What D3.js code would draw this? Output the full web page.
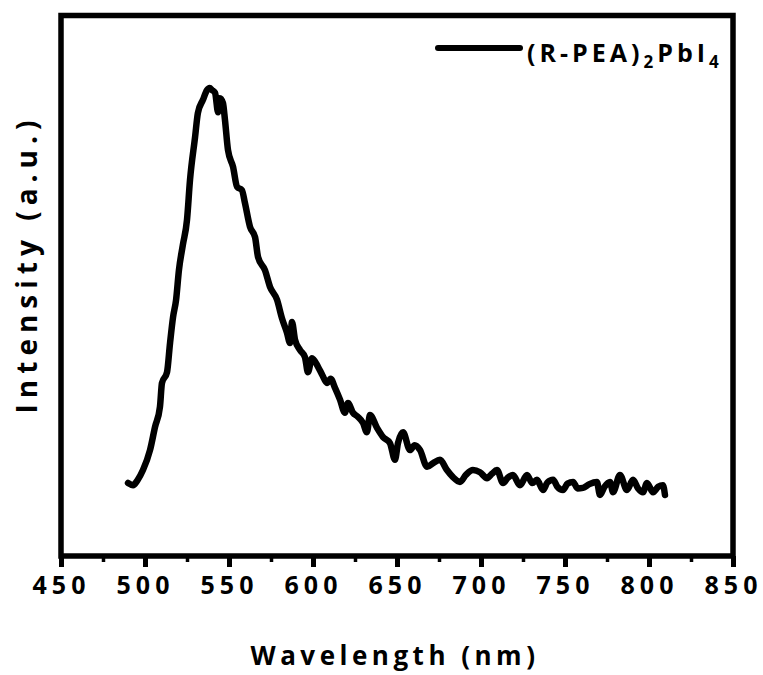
<!DOCTYPE html>
<html>
<head>
<meta charset="utf-8">
<script src="https://cdn.jsdelivr.net/npm/d3@7"></script>
<style>
  body { margin: 0; background: #fff; }
  text { font-family: "Open Sans", sans-serif; font-weight: bold; fill: #000; }
</style>
</head>
<body>
<svg id="chart" width="763" height="675"></svg>
<script>
// wavelength (nm) and PL intensity (a.u.)
const wavelength = [489.9, 492.9, 495.5, 498.8, 503.0, 506.0, 508.9, 510.1, 513.1, 514.9, 516.7, 518.5, 520.2,
  522.5, 525.0, 526.8, 529.8, 531.5, 534.5, 536.9, 538.5, 539.9, 541.7, 543.5, 544.6, 546.4, 547.6, 549.4, 552.4,
  554.8, 557.7, 559.5, 562.5, 565.5, 567.3, 571.4, 574.4, 578.6, 581.5, 584.5, 586.3, 587.5, 589.3,
  592.3, 595.2, 597.0, 599.4, 603.0, 605.5, 608.3, 610.5, 613.1, 616.1, 619.0, 620.8, 623.8, 626.5, 629.8, 632.1, 633.9,
  638.1, 641.7, 645.8, 648.8, 650.6, 653.6, 657.7, 660.5, 663.7, 667.9, 671.5, 675.6, 679.5, 683.3, 687.5, 691.0, 695.2, 699.4,
  703.6, 706.5, 709.5, 713.1, 716.0, 719.0, 723.2, 727.4, 730.5, 733.3, 736.9, 739.5, 742.9, 745.5, 748.8, 751.5, 754.8, 757.5, 760.7, 764.5, 769.0, 770.8,
  773.5, 776.8, 778.6, 782.7, 786.9, 790.5, 793.5, 796.4, 798.8, 802.4, 805.5, 808.3, 809.5];
const intensity = [0.135, 0.131, 0.140, 0.159, 0.196, 0.239, 0.276, 0.320, 0.340, 0.394, 0.442, 0.474, 0.529,
  0.575, 0.622, 0.696, 0.775, 0.820, 0.844, 0.862, 0.866, 0.862, 0.857, 0.821, 0.847, 0.838, 0.807, 0.751, 0.720,
  0.683, 0.677, 0.653, 0.609, 0.590, 0.553, 0.529, 0.498, 0.474, 0.440, 0.413, 0.394, 0.433, 0.400,
  0.381, 0.368, 0.340, 0.366, 0.350, 0.335, 0.320, 0.328, 0.311, 0.289, 0.265, 0.283, 0.265, 0.258, 0.246, 0.229, 0.261,
  0.237, 0.220, 0.209, 0.178, 0.209, 0.229, 0.196, 0.205, 0.196, 0.165, 0.172, 0.178, 0.160, 0.146, 0.137, 0.150, 0.159, 0.155,
  0.144, 0.152, 0.159, 0.135, 0.145, 0.150, 0.131, 0.150, 0.135, 0.141, 0.122, 0.136, 0.141, 0.128, 0.122, 0.134, 0.137, 0.125, 0.126, 0.133, 0.137, 0.113,
  0.128, 0.137, 0.118, 0.150, 0.122, 0.141, 0.125, 0.118, 0.135, 0.118, 0.128, 0.131, 0.113];
const xTicks = [450, 500, 550, 600, 650, 700, 750, 800, 850];
const xMinorTicks = [475, 525, 575, 625, 675, 725, 775, 825];
const seriesName = ["(R-PEA)", "2", "PbI", "4"];

const margin = {top: 15.5, right: 30, bottom: 119, left: 61};
const width = 763 - margin.left - margin.right;
const height = 675 - margin.top - margin.bottom;

const svg = d3.select("#chart");
const g = svg.append("g").attr("transform", `translate(${margin.left},${margin.top})`);

const x = d3.scaleLinear().domain([450, 850]).range([0, width]);
const y = d3.scaleLinear().domain([0, 1]).range([height, 0]);

// minor ticks first, then the major ones with labels
g.append("g").attr("transform", `translate(0,${height})`)
  .call(d3.axisBottom(x).tickValues(xMinorTicks).tickSize(6).tickFormat(""))
  .call(a => a.select(".domain").remove())
  .call(a => a.selectAll("line").attr("stroke", "#000").attr("stroke-width", 3.5));

const xAxis = g.append("g").attr("transform", `translate(0,${height})`)
  .call(d3.axisBottom(x).tickValues(xTicks).tickSize(11).tickPadding(9).tickFormat(d3.format("d")));
xAxis.select(".domain").remove();
xAxis.selectAll("line").attr("stroke", "#000").attr("stroke-width", 5);
xAxis.selectAll("text").attr("font-size", 25).attr("letter-spacing", 5)
  .attr("font-family", "'Open Sans', sans-serif").attr("font-weight", "bold");

// frame
g.append("rect").attr("x", 0).attr("y", 0).attr("width", width).attr("height", height)
  .attr("fill", "none").attr("stroke", "#000").attr("stroke-width", 5.5);

const line = d3.line().x((d, i) => x(wavelength[i])).y(d => y(d)).curve(d3.curveMonotoneX);
g.append("path").datum(intensity).attr("d", line)
  .attr("fill", "none").attr("stroke", "#000").attr("stroke-width", 6.5)
  .attr("stroke-linejoin", "round").attr("stroke-linecap", "round");

// legend
g.append("line").attr("x1", 438 - margin.left).attr("x2", 520 - margin.left)
  .attr("y1", 48 - margin.top).attr("y2", 48 - margin.top)
  .attr("stroke", "#000").attr("stroke-width", 6).attr("stroke-linecap", "round");
const lg = g.append("text").attr("x", 527 - margin.left).attr("y", 62 - margin.top)
  .attr("font-size", 25).attr("letter-spacing", 4);
seriesName.forEach((s, i) => {
  lg.append("tspan").text(s)
    .attr("font-size", i % 2 ? 17 : 25)
    .attr("dy", i % 2 ? 6 : (i ? -6 : 0));
});

// axis titles
svg.append("text").attr("x", 395).attr("y", 665).attr("text-anchor", "middle")
  .attr("font-size", 26).attr("letter-spacing", 4.5).text("Wavelength (nm)");
svg.append("text").attr("transform", "translate(37,264) rotate(-90)").attr("text-anchor", "middle")
  .attr("font-size", 28).attr("letter-spacing", 6).text("Intensity (a.u.)");
</script>
</body>
</html>
